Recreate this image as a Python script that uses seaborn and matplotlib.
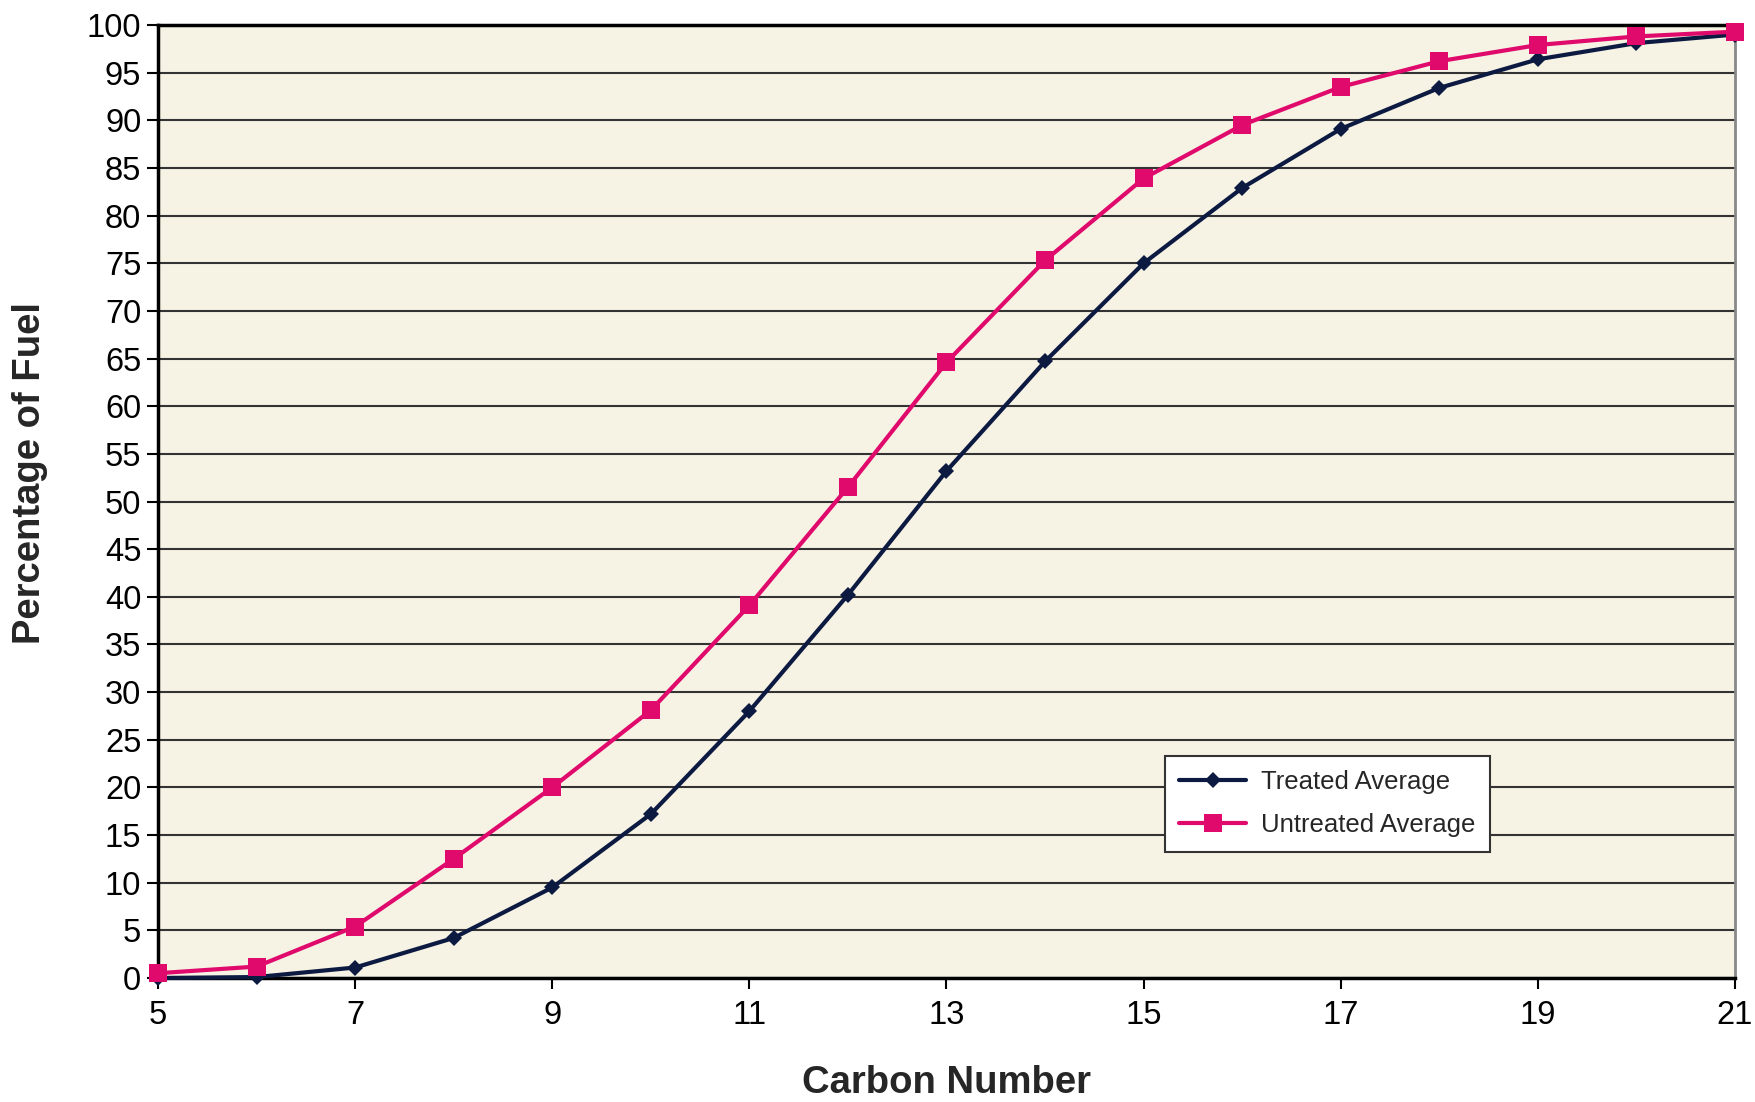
import matplotlib
matplotlib.use("Agg")
import matplotlib.pyplot as plt
import seaborn as sns
import pandas as pd

carbon_number = [5, 6, 7, 8, 9, 10, 11, 12, 13, 14, 15, 16, 17, 18, 19, 20, 21]
treated_avg = [0.0, 0.1, 1.1, 4.2, 9.5, 17.2, 28.0, 40.2, 53.2, 64.7, 75.0, 82.9, 89.1, 93.4, 96.4, 98.1, 99.0]
untreated_avg = [0.5, 1.2, 5.4, 12.5, 20.0, 28.1, 39.1, 51.5, 64.6, 75.3, 83.9, 89.5, 93.5, 96.2, 97.9, 98.8, 99.3]
series_names = ["Treated Average", "Untreated Average"]
x_ticks = [5, 7, 9, 11, 13, 15, 17, 19, 21]
y_ticks = list(range(0, 101, 5))

sns.set_theme(style="white")
plt.rcParams['font.family'] = ['Liberation Sans', 'DejaVu Sans']

df = pd.DataFrame({
    "Carbon Number": carbon_number * 2,
    "Percentage": treated_avg + untreated_avg,
    "Series": [series_names[0]] * len(carbon_number) + [series_names[1]] * len(carbon_number),
})

fig = plt.figure(figsize=(17.56, 11.02), dpi=100)
ax = fig.add_axes([158/1756, 124/1102, (1735-158)/1756, (978-25)/1102])
ax.set_facecolor("#f6f2e4")

colors = {series_names[0]: "#0c1a42", series_names[1]: "#e0096c"}
sns.lineplot(data=df, x="Carbon Number", y="Percentage", hue="Series", style="Series",
             markers={series_names[0]: "D", series_names[1]: "s"}, dashes=False,
             palette=colors, linewidth=3, ax=ax, legend=False, zorder=3)
for line, name in zip(ax.get_lines(), series_names):
    if name == series_names[0]:
        line.set_markersize(8.5)
    else:
        line.set_markersize(12.5)
    line.set_markeredgewidth(0)
    line.set_clip_on(False)

ax.set_xlim(5, 21)
ax.set_ylim(0, 100)
ax.set_xticks(x_ticks)
ax.set_yticks(y_ticks)
ax.yaxis.grid(True, color="#333333", linewidth=1.5, zorder=0)
ax.xaxis.grid(False)
ax.set_axisbelow(True)

for s in ["left", "bottom", "top"]:
    ax.spines[s].set_color("black")
    ax.spines[s].set_linewidth(2.5)
ax.spines["right"].set_color("#888888")
ax.spines["right"].set_linewidth(2)

ax.tick_params(axis="both", which="major", labelsize=23.5, colors="black",
               direction="out", length=8, width=1.5, left=True, bottom=True)
ax.tick_params(axis="x", pad=8)
ax.tick_params(axis="y", pad=4)

ax.set_xlabel("Carbon Number", fontsize=27.5, fontweight="bold", labelpad=24)
ax.set_ylabel("Percentage of Fuel", fontsize=27.5, fontweight="bold")
ax.yaxis.set_label_coords(-0.0695, 0.53)

handles = [
    plt.Line2D([], [], color=colors[series_names[0]], marker="D", markersize=8.5, linewidth=3, markeredgewidth=0),
    plt.Line2D([], [], color=colors[series_names[1]], marker="s", markersize=12.5, linewidth=3, markeredgewidth=0),
]
leg = ax.legend(handles, series_names, loc="upper left",
                bbox_to_anchor=((1165-158)/(1735-158), (978-756)/(978-25)),
                borderaxespad=0, fontsize=18.5, frameon=True, fancybox=False, framealpha=1,
                edgecolor="#333333", handlelength=2.6, handletextpad=0.6,
                borderpad=0.55, labelspacing=0.75)
leg.get_frame().set_linewidth(1.5)

fig.savefig("out.png", dpi=100, facecolor="white")
